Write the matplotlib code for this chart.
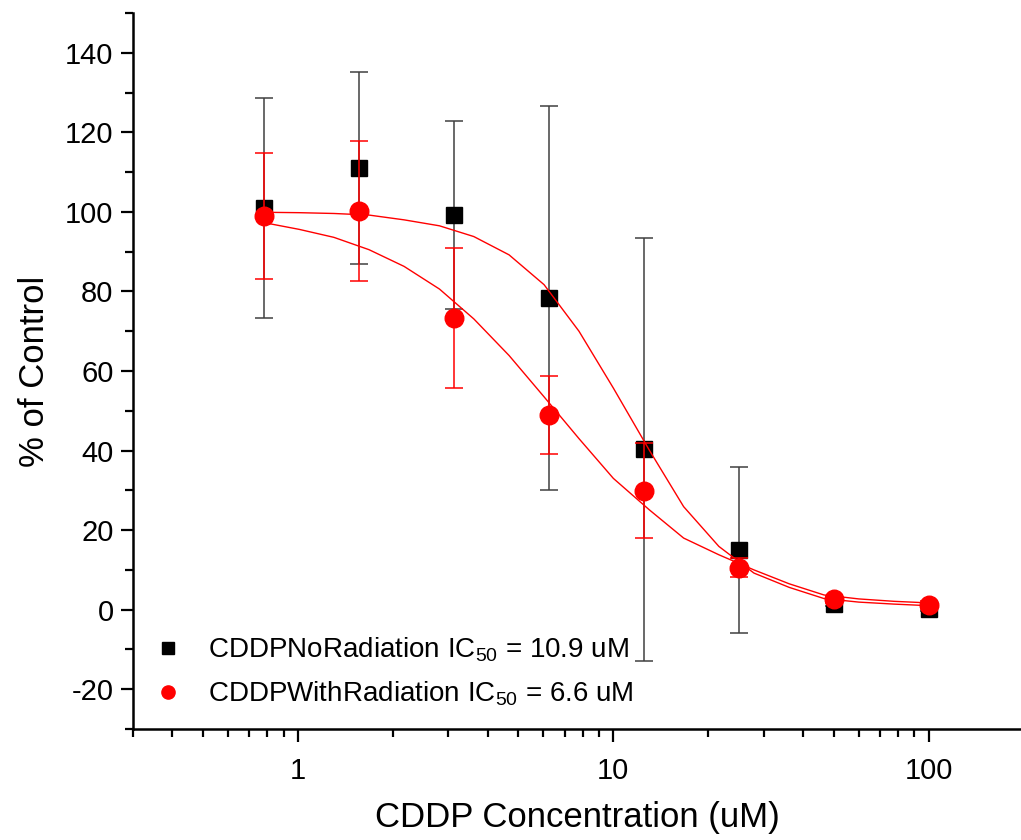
import matplotlib
matplotlib.use("Agg")
import matplotlib.pyplot as plt
from matplotlib.lines import Line2D
from matplotlib.ticker import LogLocator, FixedLocator, MultipleLocator, FuncFormatter

plt.rcParams['font.family'] = ['Liberation Sans', 'DejaVu Sans']
plt.rcParams['mathtext.fontset'] = 'custom'
plt.rcParams['mathtext.rm'] = 'Liberation Sans'
plt.rcParams['mathtext.it'] = 'Liberation Sans:italic'
plt.rcParams['axes.unicode_minus'] = False

# measured points (mean +/- error)
conc = [0.78125, 1.5625, 3.125, 6.25, 12.5, 25, 50, 100]
no_rad = [101.0, 111.0, 99.2, 78.3, 40.3, 15.0, 1.5, 0.2]
no_rad_err = [27.6, 24.1, 23.7, 48.2, 53.2, 20.8, 0.5, 0.5]
with_rad = [99.0, 100.2, 73.4, 48.9, 29.9, 10.6, 2.6, 1.1]
with_rad_err = [15.8, 17.6, 17.6, 9.8, 12.0, 2.5, 0.8, 1.0]

# fitted curves
fit_conc = [0.78, 1.01, 1.30, 1.68, 2.17, 2.81, 3.61, 4.67, 6.03, 7.78,
            10.0, 13.0, 16.7, 21.6, 27.9, 36.1, 46.5, 60.0, 77.5, 100]
fit_no = [99.9, 99.8, 99.6, 99.2, 98.0, 96.5, 93.8, 89.2, 81.7, 70.0,
          55.7, 40.1, 25.9, 15.9, 9.2, 5.6, 2.8, 1.9, 1.4, 1.0]
fit_with = [97.3, 95.6, 93.6, 90.5, 86.3, 80.6, 73.1, 63.9, 53.5, 43.0,
            33.0, 25.1, 18.0, 13.8, 10.0, 6.5, 3.7, 2.7, 2.1, 1.7]

labels = [r'CDDPNoRadiation IC$_{50}$ = 10.9 uM',
          r'CDDPWithRadiation IC$_{50}$ = 6.6 uM']

fig = plt.figure(figsize=(10.21, 8.4), dpi=100)
ax = fig.add_axes([133 / 1021, 1 - 729 / 840, 888 / 1021, 716 / 840])

ax.errorbar(conc, no_rad, yerr=no_rad_err, fmt='none', ecolor='#404040',
            elinewidth=1.1, capsize=6.5, capthick=1.1, zorder=2)
ax.plot(conc, no_rad, 's', color='black', ms=11.3, zorder=3)
ax.errorbar(conc, with_rad, yerr=with_rad_err, fmt='none', ecolor='red',
            elinewidth=1.1, capsize=6.5, capthick=1.1, zorder=4)
ax.plot(conc, with_rad, 'o', color='red', ms=13.4, zorder=5)

ax.plot(fit_conc, fit_no, '-', color='red', lw=1.0, zorder=6)
ax.plot(fit_conc, fit_with, '-', color='red', lw=1.0, zorder=6)

ax.set_xscale('log')
ax.set_xlim(0.3, 196)
ax.set_ylim(-30, 150)

ax.xaxis.set_major_locator(FixedLocator([1, 10, 100]))
ax.xaxis.set_minor_locator(LogLocator(base=10, subs=range(2, 10)))
ax.xaxis.set_major_formatter(FuncFormatter(lambda v, p: '%g' % v))
ax.xaxis.set_minor_formatter(FuncFormatter(lambda v, p: ''))
ax.yaxis.set_major_locator(MultipleLocator(20))
ax.yaxis.set_minor_locator(MultipleLocator(10))

for s in ['top', 'right']:
    ax.spines[s].set_visible(False)
for s in ['left', 'bottom']:
    ax.spines[s].set_linewidth(1.8)

ax.tick_params(which='major', direction='out', length=9, width=1.6,
               labelsize=21, pad=5)
ax.tick_params(axis='x', which='major', pad=11)
ax.tick_params(which='minor', direction='out', length=5.5, width=1.6)

ax.set_xlabel('CDDP Concentration (uM)', fontsize=25, labelpad=12)
ax.set_ylabel('% of Control', fontsize=25, labelpad=10)

handles = [Line2D([], [], ls='none', marker='s', color='black', ms=8.6),
           Line2D([], [], ls='none', marker='o', color='red', ms=9.5)]
ax.legend(handles, labels, loc='lower left', bbox_to_anchor=(0.0, 0.0),
          frameon=False, fontsize=20, handlelength=1.0, handletextpad=0.95,
          labelspacing=0.55, borderaxespad=0.35)

fig.savefig('out.png', dpi=100)
